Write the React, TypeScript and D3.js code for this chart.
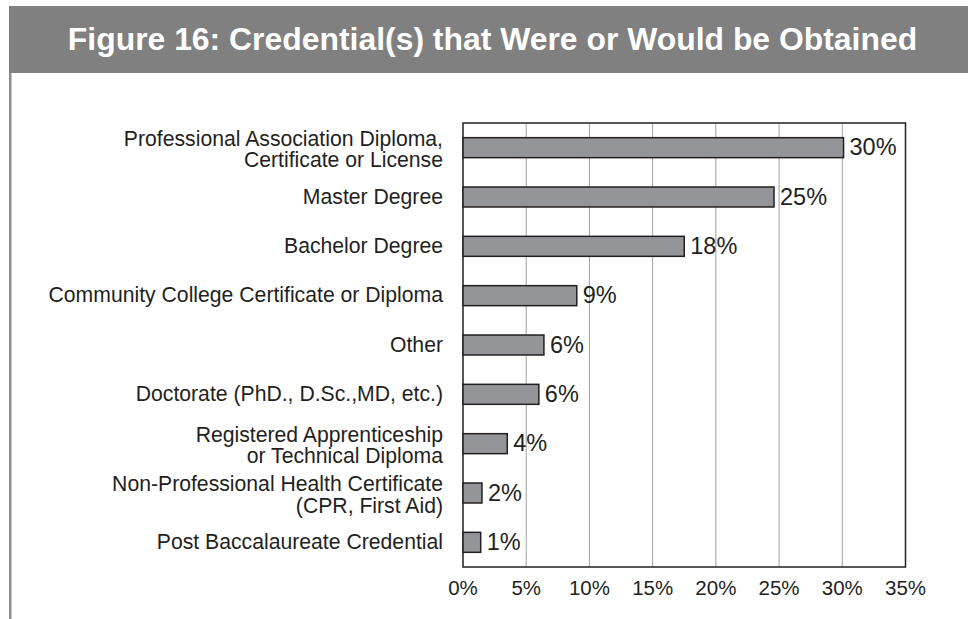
import React from "react";
import * as d3 from "d3";

const categories: string[][] = [
  ["Professional Association Diploma,", "Certificate or License"],
  ["Master Degree"],
  ["Bachelor Degree"],
  ["Community College Certificate or Diploma"],
  ["Other"],
  ["Doctorate (PhD., D.Sc.,MD, etc.)"],
  ["Registered Apprenticeship", "or Technical Diploma"],
  ["Non-Professional Health Certificate", "(CPR, First Aid)"],
  ["Post Baccalaureate Credential"],
];
const values: number[] = [30.1, 24.6, 17.5, 9.0, 6.4, 6.0, 3.5, 1.5, 1.4];
const valueLabels: string[] = ["30%", "25%", "18%", "9%", "6%", "6%", "4%", "2%", "1%"];
const ticks: number[] = [0, 5, 10, 15, 20, 25, 30, 35];
const title = "Figure 16: Credential(s) that Were or Would be Obtained";

const W = 968;
const H = 619;
const FONT = "'Liberation Sans', Arial, Helvetica, sans-serif";
const TEXT = "#231f20";

export default function App() {
  const x = d3.scaleLinear().domain([0, 35]).range([463, 905.5]);
  const y = d3
    .scaleBand<number>()
    .domain(d3.range(categories.length))
    .range([123, 567])
    .paddingInner(0.595)
    .paddingOuter(0.2975);
  const bw = y.bandwidth();

  return (
    <svg
      width={W}
      height={H}
      style={{ position: "absolute", left: 0, top: 0, background: "#fff" }}
      fontFamily={FONT}
    >
      <rect x={0} y={0} width={W} height={H} fill="#fff" />
      {/* title bar */}
      <rect x={9} y={6} width={W - 9} height={67} fill="#808080" />
      <text
        x={492.5}
        y={50}
        textAnchor="middle"
        fill="#fff"
        fontWeight="bold"
        fontSize={31.9}
      >
        {title}
      </text>
      {/* left border */}
      <rect x={9} y={73} width={2.5} height={H - 73} fill="#8c8c8c" />

      {/* gridlines */}
      {ticks.slice(1, -1).map((t) => (
        <line
          key={t}
          x1={x(t)}
          x2={x(t)}
          y1={123}
          y2={567}
          stroke="#a0a0a0"
          strokeWidth={1}
        />
      ))}
      {/* frame */}
      <rect
        x={x(0)}
        y={123}
        width={x(35) - x(0)}
        height={444}
        fill="none"
        stroke="#231f20"
        strokeWidth={1.5}
      />

      {/* bars */}
      {values.map((v, i) => {
        const yy = y(i)!;
        return (
          <g key={i}>
            <rect
              x={x(0)}
              y={yy}
              width={x(v) - x(0)}
              height={bw}
              fill="#939598"
              stroke="#231f20"
              strokeWidth={1.5}
            />
            <text
              x={x(v) + 6}
              y={yy + bw / 2 + 7.8}
              fontSize={23.5}
              fill={TEXT}
            >
              {valueLabels[i]}
            </text>
          </g>
        );
      })}

      {/* category labels */}
      {categories.map((lines, i) => {
        const c = y(i)! + bw / 2;
        return (
          <text key={i} textAnchor="end" fontSize={21.2} fill={TEXT}>
            {lines.length === 1 ? (
              <tspan x={443} y={c + 6.5}>
                {lines[0]}
              </tspan>
            ) : (
              lines.map((l, j) => (
                <tspan key={j} x={443} y={c - 2 + j * 21.5}>
                  {l}
                </tspan>
              ))
            )}
          </text>
        );
      })}

      {/* x tick labels */}
      {ticks.map((t) => (
        <text
          key={t}
          x={x(t)}
          y={595}
          textAnchor="middle"
          fontSize={20.5}
          fill={TEXT}
        >
          {t + "%"}
        </text>
      ))}
    </svg>
  );
}
